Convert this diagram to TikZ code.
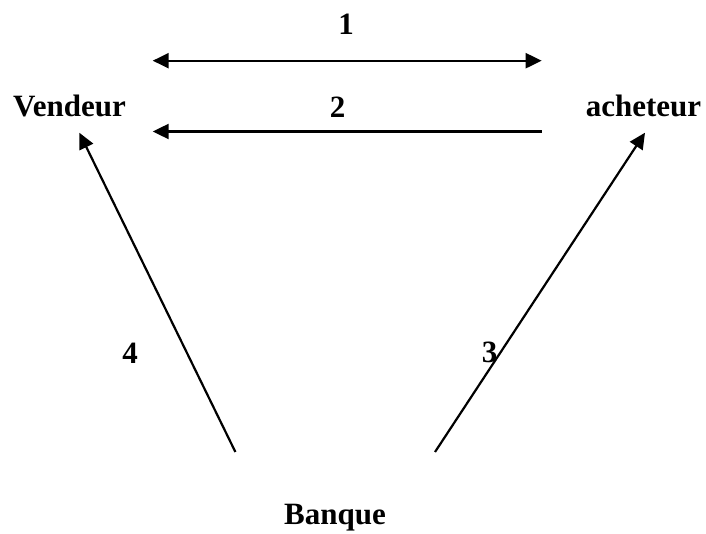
\documentclass[tikz,border=0pt]{standalone}
\usepackage{fontspec}
\setmainfont{Liberation Serif}
\usetikzlibrary{arrows.meta, positioning}

\begin{document}
\begin{tikzpicture}[
  x=1pt, y=-1pt,
  >={Triangle[length=16pt, width=15pt]},
  lbl/.style={anchor=base, inner sep=0pt, font=\fontsize{31}{36}\selectfont\bfseries},
  flow/.style={->, line width=2.2pt},
  flowboth/.style={<->, line width=2.2pt},
]
\useasboundingbox (0,0) rectangle (706,534);

% Parties
\node[lbl] (vendeur) at (69.5, 117)  {Vendeur};
\node[lbl] (acheteur) at (643.5, 117) {acheteur};
\node[lbl] (banque)  at (335, 524)   {Banque};

% Arrow ends
\coordinate (v1) at (152.7, 60.7);
\coordinate (a1) at (541.7, 60.7);
\coordinate (v2) at (152.7, 131.5);
\coordinate (a2) at (541.7, 131.5);
\coordinate (vtip) at (79.3, 132.7);
\coordinate (atip) at (645, 132.7);
\coordinate (bl) at (235.4, 452);
\coordinate (br) at (435, 452);

% Flows
\draw[flowboth] (v1) -- (a1);
\draw[flow] (a2) -- (v2);
\draw[flow] (bl) -- (vtip);
\draw[flow] (br) -- (atip);

% Step numbers
\node[lbl] (n1) at (346, 35)   {1};
\node[lbl] (n2) at (337.5, 118) {2};
\node[lbl] (n3) at (489.5, 362) {3};
\node[lbl] (n4) at (130, 363)  {4};

\end{tikzpicture}
\end{document}
